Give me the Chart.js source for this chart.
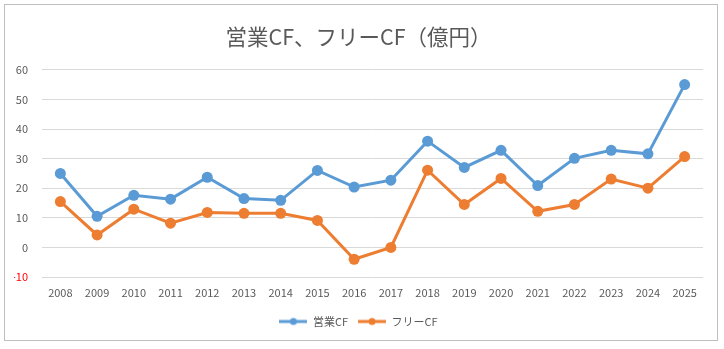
<!DOCTYPE html>
<html lang="ja">
<head>
<meta charset="utf-8">
<title>営業CF、フリーCF（億円）</title>
<script src="https://cdn.jsdelivr.net/npm/chart.js@4/dist/chart.umd.min.js"></script>
<style>
  html, body { margin: 0; padding: 0; background: #ffffff; }
  #wrap { width: 724px; height: 349px; position: relative; }
  #cf { display: block; }
</style>
</head>
<body>
<div id="wrap"><canvas id="cf" width="724" height="349"></canvas></div>
<script>
// Fiscal years
const years = ['2008','2009','2010','2011','2012','2013','2014','2015','2016',
               '2017','2018','2019','2020','2021','2022','2023','2024','2025'];
// Operating cash flow (億円)
const operatingCF = [25.0, 10.5, 17.6, 16.3, 23.7, 16.5, 15.9, 26.0, 20.4,
                     22.7, 35.9, 27.0, 32.8, 20.9, 30.1, 32.8, 31.6, 55.0];
// Free cash flow (億円)
const freeCF = [15.5, 4.2, 12.9, 8.2, 11.8, 11.5, 11.5, 9.1, -4.0,
                0.0, 26.1, 14.5, 23.3, 12.2, 14.5, 23.1, 20.0, 30.7];
// Value axis
const yMin = -10, yMax = 60, yStep = 10;

const BLUE = '#5B9BD5';
const ORANGE = '#ED7D31';
const TEXT = '#595959';
const FONT = "'Noto Sans CJK JP', 'Noto Sans', sans-serif";

// Legend swatch: short line with a dot in the middle
function swatch(color) {
  const c = document.createElement('canvas');
  c.width = 28; c.height = 10;
  const g = c.getContext('2d');
  g.strokeStyle = color; g.lineWidth = 3;
  g.beginPath(); g.moveTo(0, 5); g.lineTo(28, 5); g.stroke();
  g.fillStyle = color;
  g.beginPath(); g.arc(14, 5, 3.5, 0, Math.PI * 2); g.fill();
  return c;
}

// White background and thin outer frame
const frame = {
  id: 'frame',
  beforeDraw(chart) {
    const ctx = chart.ctx;
    ctx.save();
    ctx.fillStyle = '#ffffff';
    ctx.fillRect(0, 0, chart.width, chart.height);
    ctx.strokeStyle = '#bfbfbf';
    ctx.lineWidth = 1;
    ctx.strokeRect(4.5, 4.5, 713, 336);
    ctx.restore();
  }
};

new Chart(document.getElementById('cf'), {
  type: 'line',
  data: {
    labels: years,
    datasets: [
      {
        label: '営業CF',
        data: operatingCF,
        borderColor: BLUE,
        backgroundColor: BLUE,
        borderWidth: 3,
        pointRadius: 5.5,
        pointBorderWidth: 0,
        pointStyle: 'circle',
        tension: 0
      },
      {
        label: 'フリーCF',
        data: freeCF,
        borderColor: ORANGE,
        backgroundColor: ORANGE,
        borderWidth: 3,
        pointRadius: 5.5,
        pointBorderWidth: 0,
        pointStyle: 'circle',
        tension: 0
      }
    ]
  },
  options: {
    responsive: false,
    animation: false,
    devicePixelRatio: 1,
    layout: { padding: { left: 14, right: 21, top: 0, bottom: 12 } },
    plugins: {
      title: {
        display: true,
        text: '営業CF、フリーCF（億円）',
        color: TEXT,
        font: { family: FONT, size: 21.5, weight: 'normal', lineHeight: 1.2 },
        padding: { top: 24, bottom: 20 }
      },
      legend: {
        position: 'bottom',
        labels: {
          color: TEXT,
          font: { family: FONT, size: 11 },
          usePointStyle: true,
          pointStyleWidth: 28,
          padding: 10,
          generateLabels(chart) {
            return chart.data.datasets.map((ds, i) => ({
              text: ds.label,
              fillStyle: ds.borderColor,
              strokeStyle: ds.borderColor,
              lineWidth: 0,
              pointStyle: swatch(ds.borderColor),
              datasetIndex: i,
              fontColor: TEXT
            }));
          }
        }
      },
      tooltip: { enabled: false }
    },
    scales: {
      x: {
        offset: true,
        grid: { display: false, drawTicks: false },
        border: { display: false },
        ticks: {
          color: TEXT,
          font: { family: FONT, size: 11 },
          padding: 9,
          maxRotation: 0,
          autoSkip: false
        },
        afterFit(scale) { scale.height = 29; }
      },
      y: {
        min: yMin,
        max: yMax,
        grid: { color: '#d9d9d9', lineWidth: 1, drawTicks: false },
        border: { display: false },
        ticks: {
          stepSize: yStep,
          padding: 14,
          font: { family: FONT, size: 11 },
          color: (c) => (c.tick && c.tick.value < 0 ? '#FF0000' : TEXT)
        },
        afterFit(scale) { scale.width = 28; }
      }
    }
  },
  plugins: [frame]
});
</script>
</body>
</html>
